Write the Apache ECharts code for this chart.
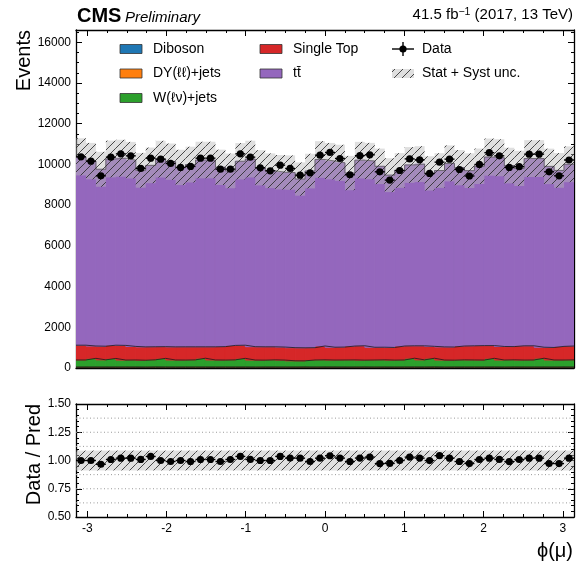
<!DOCTYPE html>
<html><head><meta charset="utf-8">
<script src="https://cdn.jsdelivr.net/npm/echarts@6/dist/echarts.min.js"></script>
<style>html,body{margin:0;padding:0;background:#fff}#c{width:576px;height:565px}</style>
</head><body><div id="c"></div>
<script>
// ---------------- data ----------------
const nBins = 50;
const xMin = -Math.PI, xMax = Math.PI;
const xTickLabels = [-3, -2, -1, 0, 1, 2, 3];
const xMinorTicks = [-3,-2.75,-2.5,-2.25,-2,-1.75,-1.5,-1.25,-1,-0.75,-0.5,-0.25,0,0.25,0.5,0.75,1,1.25,1.5,1.75,2,2.25,2.5,2.75,3];
const ratioGridLines = [0.625, 0.75, 0.875, 1.125, 1.25, 1.375];

const diboson = [21,19,22,20,18,21,20,22,19,20,21,18,20,22,19,21,20,19,22,20,18,21,20,19,22,20,21,19,20,18,22,20,19,21,20,22,18,20,21,19,20,22,19,21,20,18,21,20,22,19];
const dyjets = [34,36,33,35,37,34,32,36,35,33,34,37,35,33,36,34,35,32,34,36,35,33,37,34,35,36,33,34,37,35,34,33,36,35,34,37,33,35,34,36,35,34,33,36,35,37,34,33,35,36];
const wjets = [340,420,345,415,335,340,330,345,420,340,335,345,425,340,335,345,420,340,330,345,335,300,295,340,345,335,340,345,330,340,345,335,340,425,345,420,340,330,345,340,335,420,340,345,335,340,425,340,335,345];
const singleTop = [725,605,670,650,720,665,655,640,575,645,650,640,560,645,660,710,645,655,655,640,640,645,640,605,680,630,635,680,705,625,620,620,685,610,690,585,645,645,680,695,710,625,665,650,700,695,540,615,670,680];
const ttbar = [9251,9080,8690,9144,9192,9146,8673,8908,9208,9096,8810,8950,9174,9174,8806,8570,9033,9214,8792,8645,8587,8598,8287,8674,9159,9138,9048,8496,9116,9145,8883,8463,8620,8881,8925,8494,8662,9017,8759,8602,8807,9257,9268,8889,8712,9197,9267,8893,8641,8925];
const dataCounts = [10371,10160,9438,10356,10518,10420,9800,10306,10258,10045,9850,9900,10306,10306,9767,9767,10518,10356,9832,9685,9963,9800,9472,9587,10454,10585,10290,9490,10430,10470,9636,9227,9700,10270,10225,9554,10110,10258,9750,9430,9996,10575,10421,9849,9890,10503,10503,9636,9439,10215];
const uncFrac = 0.088;

// ---------------- build ----------------
const FONT = '"Liberation Sans", Arial, Helvetica, sans-serif';
const edges = [];
for (let i = 0; i <= nBins; i++) edges.push(xMin + (xMax - xMin) * i / nBins);

function makeHatch() {
  const s = 8;
  const cv = document.createElement('canvas');
  cv.width = s; cv.height = s;
  const ctx = cv.getContext('2d');
  ctx.fillStyle = 'rgba(185,185,185,0.45)';
  ctx.fillRect(0, 0, s, s);
  ctx.strokeStyle = 'rgba(45,45,45,0.85)';
  ctx.lineWidth = 1;
  ctx.beginPath();
  for (let k = -1; k <= 1; k++) { ctx.moveTo(k * s, s); ctx.lineTo(k * s + s, 0); }
  ctx.stroke();
  return cv;
}
const hatchCanvas = makeHatch();
const hatchFill = () => ({ image: hatchCanvas, repeat: 'repeat' });

function rectRenderer(fillFn, solid) {
  return function (params, api) {
    const x0 = api.value(0), x1 = api.value(1), y0 = api.value(2), y1 = api.value(3);
    const p0 = api.coord([x0, y1]);
    const p1 = api.coord([x1, y0]);
    const style = { fill: fillFn() };
    if (solid) { style.stroke = fillFn(); style.lineWidth = 1; }
    return {
      type: 'rect',
      shape: { x: p0[0], y: p0[1], width: p1[0] - p0[0], height: p1[1] - p0[1] },
      style: style
    };
  };
}

const comps = [
  { vals: diboson, color: '#1f77b4' },
  { vals: dyjets, color: '#ff7f0e' },
  { vals: wjets, color: '#2ca02c' },
  { vals: singleTop, color: '#d62728' },
  { vals: ttbar, color: '#9467bd' }
];

const series = [];
const cum = new Array(nBins).fill(0);
comps.forEach((c, ci) => {
  const d = [];
  for (let i = 0; i < nBins; i++) {
    const lo = cum[i], hi = lo + c.vals[i];
    d.push([edges[i], edges[i + 1], lo, hi]);
    cum[i] = hi;
  }
  series.push({
    type: 'custom', xAxisIndex: 0, yAxisIndex: 0, data: d,
    encode: { x: [0, 1], y: [2, 3] }, renderItem: rectRenderer(() => c.color, true),
    z: 2, silent: true, animation: false, clip: true
  });
  const ld = d.map(r => [r[0], r[3]]);
  ld.push([xMax, d[nBins - 1][3]]);
  series.push({
    type: 'line', step: 'end', xAxisIndex: 0, yAxisIndex: 0, data: ld,
    showSymbol: false, symbol: 'none', lineStyle: { color: '#1a1a1a', width: 0.8 },
    z: 3, silent: true, animation: false
  });
});
const mcTotal = cum.slice();

// MC uncertainty band (top)
const bandTop = [];
for (let i = 0; i < nBins; i++) bandTop.push([edges[i], edges[i + 1], mcTotal[i] * (1 - uncFrac), mcTotal[i] * (1 + uncFrac)]);
series.push({
  type: 'custom', xAxisIndex: 0, yAxisIndex: 0, data: bandTop,
  encode: { x: [0, 1], y: [2, 3] }, renderItem: rectRenderer(hatchFill, false),
  z: 4, silent: true, animation: false
});

function pointRenderer(params, api) {
  const xl = api.value(0), xr = api.value(1), y = api.value(2);
  const pl = api.coord([xl, y]), pr = api.coord([xr, y]);
  const cx = (pl[0] + pr[0]) / 2;
  return {
    type: 'group',
    children: [
      { type: 'line', shape: { x1: pl[0], y1: pl[1], x2: pr[0], y2: pr[1] }, style: { stroke: '#000', lineWidth: 1.4 } },
      { type: 'circle', shape: { cx: cx, cy: pl[1], r: 3.6 }, style: { fill: '#000' } }
    ]
  };
}

const dataPts = [];
for (let i = 0; i < nBins; i++) dataPts.push([edges[i], edges[i + 1], dataCounts[i]]);
series.push({
  type: 'custom', xAxisIndex: 0, yAxisIndex: 0, data: dataPts,
  encode: { x: [0, 1], y: 2 }, renderItem: pointRenderer, z: 6, silent: true, animation: false
});

// ratio panel
series.push({
  type: 'custom', xAxisIndex: 4, yAxisIndex: 2, data: ratioGridLines.map(v => [xMin, xMax, v]),
  encode: { x: [0, 1], y: 2 },
  renderItem: function (params, api) {
    const a = api.coord([api.value(0), api.value(2)]), b = api.coord([api.value(1), api.value(2)]);
    return { type: 'line', shape: { x1: a[0], y1: a[1], x2: b[0], y2: b[1] }, style: { stroke: '#9a9a9a', lineWidth: 1, lineDash: [1, 2.5] } };
  },
  z: 1, silent: true, animation: false
});
const bandRatio = [];
for (let i = 0; i < nBins; i++) bandRatio.push([edges[i], edges[i + 1], 1 - uncFrac, 1 + uncFrac]);
series.push({
  type: 'custom', xAxisIndex: 4, yAxisIndex: 2, data: bandRatio,
  encode: { x: [0, 1], y: [2, 3] }, renderItem: rectRenderer(hatchFill, false),
  z: 4, silent: true, animation: false
});
const ratioPts = [];
for (let i = 0; i < nBins; i++) ratioPts.push([edges[i], edges[i + 1], dataCounts[i] / mcTotal[i]]);
series.push({
  type: 'custom', xAxisIndex: 4, yAxisIndex: 2, data: ratioPts,
  encode: { x: [0, 1], y: 2 }, renderItem: pointRenderer, z: 6, silent: true, animation: false
});

// ---------------- axes ----------------
const lineStyleAxis = { color: '#000', width: 1.3 };
function xAx(grid, pos, major, labels) {
  return {
    type: 'value', gridIndex: grid, position: pos, min: xMin, max: xMax,
    axisLine: { show: major, onZero: false, lineStyle: lineStyleAxis },
    axisTick: { show: true, inside: true, length: major ? 6 : 3, customValues: major ? xTickLabels : xMinorTicks, lineStyle: { color: '#000', width: 1 } },
    axisLabel: labels ? { show: true, customValues: xTickLabels, formatter: v => String(v), fontSize: 12, fontFamily: FONT, color: '#000', margin: 6 } : { show: false },
    splitLine: { show: false }
  };
}
const xAxes = [
  xAx(0, 'bottom', true, false), xAx(0, 'bottom', false, false),
  xAx(0, 'top', true, false), xAx(0, 'top', false, false),
  xAx(1, 'bottom', true, true), xAx(1, 'bottom', false, false),
  xAx(1, 'top', true, false), xAx(1, 'top', false, false)
];
function yAx(grid, pos, min, max, interval, minorSplit, labels, fmt) {
  return {
    type: 'value', gridIndex: grid, position: pos, min: min, max: max, interval: interval,
    axisLine: { show: true, onZero: false, lineStyle: lineStyleAxis },
    axisTick: { show: true, inside: true, length: 6, lineStyle: { color: '#000', width: 1 } },
    minorTick: { show: true, splitNumber: minorSplit, length: 3, lineStyle: { color: '#000', width: 1 } },
    axisLabel: labels ? { show: true, formatter: fmt, fontSize: 12, fontFamily: FONT, color: '#000', margin: 5 } : { show: false },
    splitLine: { show: false }
  };
}
const topFmt = v => (Math.abs(v % 2000) < 1e-6 ? String(v) : '');
const ratFmt = v => (Math.abs((v * 4) - Math.round(v * 4)) < 1e-6 ? v.toFixed(2) : '');
const yAxes = [
  yAx(0, 'left', 0, 16600, 2000, 4, true, topFmt),
  yAx(0, 'right', 0, 16600, 2000, 4, false),
  yAx(1, 'left', 0.5, 1.5, 0.25, 5, true, ratFmt),
  yAx(1, 'right', 0.5, 1.5, 0.25, 5, false)
];

// ---------------- graphic (titles + legend) ----------------
const txt = (x, y, text, font, align, valign, extra) => Object.assign({
  type: 'text', x: x, y: y, silent: true,
  style: { text: text, font: font, fill: '#000', textAlign: align || 'left', textVerticalAlign: valign || 'middle' }
}, extra || {});
const legFont = '14px ' + FONT;
const sw = (x, y, color) => ({ type: 'rect', silent: true, shape: { x: x, y: y - 4.5, width: 22, height: 9 }, style: { fill: color, stroke: '#333', lineWidth: 0.8 } });
const rows = [49, 73.5, 98];
const graphic = [
  txt(77, 16.5, 'CMS', 'bold 20px ' + FONT),
  txt(125, 17.5, 'Preliminary', 'italic 15px ' + FONT),
  {
    type: 'text', x: 573, y: 15, silent: true,
    style: {
      text: '{a|41.5 fb}{s|\u22121}{a| (2017, 13 TeV)}',
      textAlign: 'right', textVerticalAlign: 'middle',
      rich: {
        a: { fontSize: 15, fontFamily: FONT, fill: '#000', lineHeight: 17 },
        s: { fontSize: 10.5, fontFamily: FONT, fill: '#000', verticalAlign: 'top', lineHeight: 17 }
      }
    }
  },
  txt(24, 30, 'Events', '20px ' + FONT, 'right', 'middle', { rotation: Math.PI / 2 }),
  txt(34, 404, 'Data / Pred', '20px ' + FONT, 'right', 'middle', { rotation: Math.PI / 2 }),
  txt(573, 551, '\u03D5(\u03BC)', '20px ' + FONT, 'right', 'middle'),
  // legend column 1
  sw(120, rows[0], '#1f77b4'), txt(153, rows[0], 'Diboson', legFont),
  sw(120, rows[1], '#ff7f0e'), txt(153, rows[1], 'DY(\u2113\u2113)+jets', legFont),
  sw(120, rows[2], '#2ca02c'), txt(153, rows[2], 'W(\u2113\u03BD)+jets', legFont),
  // column 2
  sw(260, rows[0], '#d62728'), txt(293, rows[0], 'Single Top', legFont),
  sw(260, rows[1], '#9467bd'), txt(293, rows[1], 't\u0074\u0304', legFont),
  // column 3
  { type: 'line', silent: true, shape: { x1: 392, y1: rows[0], x2: 414, y2: rows[0] }, style: { stroke: '#000', lineWidth: 1.4 } },
  { type: 'line', silent: true, shape: { x1: 403, y1: rows[0] - 7, x2: 403, y2: rows[0] + 7 }, style: { stroke: '#000', lineWidth: 1.4 } },
  { type: 'circle', silent: true, shape: { cx: 403, cy: rows[0], r: 3.6 }, style: { fill: '#000' } },
  txt(422, rows[0], 'Data', legFont),
  { type: 'rect', silent: true, shape: { x: 392, y: rows[1] - 4.5, width: 22, height: 9 }, style: { fill: hatchFill() } },
  txt(422, rows[1], 'Stat + Syst unc.', legFont)
];

const chart = echarts.init(document.getElementById('c'), null, { renderer: 'canvas' });
chart.setOption({
  animation: false,
  backgroundColor: '#fff',
  grid: [
    { left: 76, top: 30, width: 498, height: 338 },
    { left: 76, top: 404, width: 498, height: 113 }
  ],
  xAxis: xAxes,
  yAxis: yAxes,
  series: series,
  graphic: graphic
});
</script>
</body></html>
